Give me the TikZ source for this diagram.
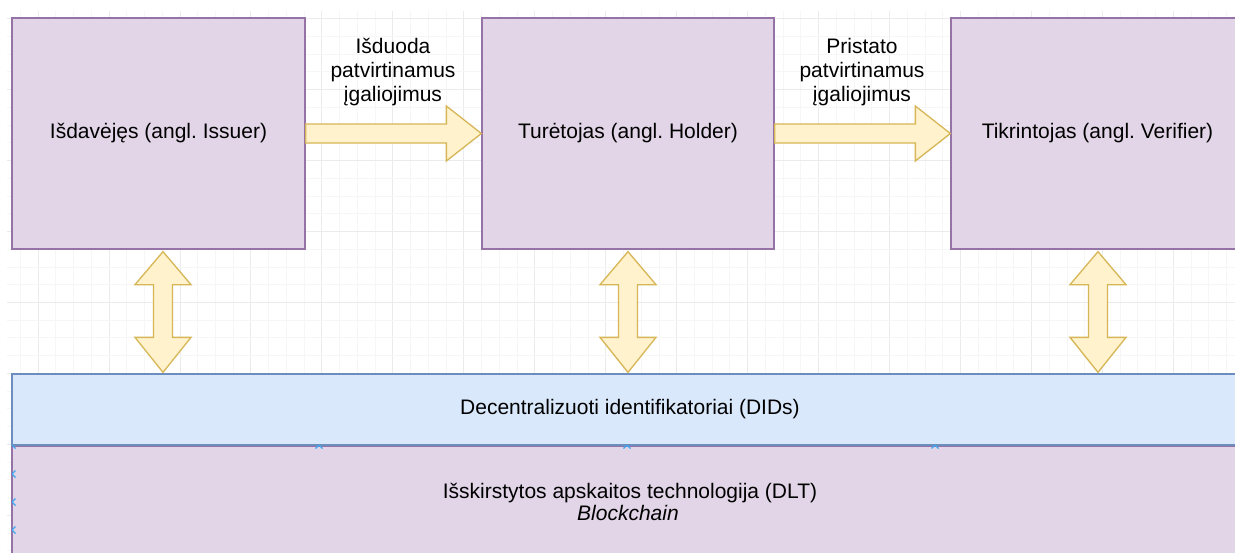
\documentclass[tikz,border=0pt]{standalone}
\usepackage{fontspec}
\setmainfont{Liberation Sans}
\usetikzlibrary{calc}
\frenchspacing
\definecolor{pfill}{HTML}{E1D5E7}
\definecolor{pdraw}{HTML}{9673A6}
\definecolor{bfill}{HTML}{DAE8FC}
\definecolor{bdraw}{HTML}{6C8EBF}
\definecolor{yfill}{HTML}{FFF2CC}
\definecolor{ydraw}{HTML}{D6B656}
\definecolor{gridminor}{HTML}{F6F6F6}
\definecolor{gridmajor}{HTML}{EBEBEB}
\definecolor{markblue}{HTML}{3AA8F0}
\begin{document}
\begin{tikzpicture}[x=1pt,y=-1pt,
  txt/.style={font=\fontsize{21}{24}\selectfont, text=black, align=center, inner sep=0pt},
  pbox/.style={txt, draw=pdraw, fill=pfill, line width=1.3pt},
  bbox/.style={txt, draw=bdraw, fill=bfill, line width=1.3pt},
  yarrow/.style={draw=ydraw, fill=yfill, line width=1.3pt, line join=miter},
  gminor/.style={draw=gridminor, line width=0.8pt},
  gmajor/.style={draw=gridmajor, line width=0.8pt},
  cmark/.style={draw=markblue, line width=1.3pt}]
\useasboundingbox (0,0) rectangle (1235,552);
\fill[white] (0,0) rectangle (1235,552);
% background grid
\foreach \i in {1,...,69} {
  \pgfmathsetmacro\gx{2.52+17.74*\i}
  \pgfmathtruncatemacro\m{mod(\i,4)}
  \ifnum\m=2 \draw[gmajor] (\gx,11) -- (\gx,552); \else \draw[gminor] (\gx,11) -- (\gx,552); \fi
}
\foreach \j in {1,...,31} {
  \pgfmathsetmacro\gy{0.8+17.74*\j}
  \pgfmathtruncatemacro\m{mod(\j,4)}
  \ifnum\m=1 \draw[gmajor] (7,\gy) -- (1235,\gy); \else \draw[gminor] (7,\gy) -- (1235,\gy); \fi
}
% top boxes
\node[pbox, minimum width=293pt, minimum height=231pt] (issuer) at (158.5,133.5) {Išdavėjęs (angl. Issuer)};
\node[pbox, minimum width=292pt, minimum height=231pt] (holder) at (628,133.5) {Turėtojas (angl. Holder)};
\node[pbox, minimum width=293pt, minimum height=231pt] (verifier) at (1097.5,133.5) {Tikrintojas (angl. Verifier)};
% bottom boxes
\node[pbox, font=\fontsize{21}{22}\selectfont, minimum width=1232pt, minimum height=112pt] (dlt) at (628,502) {\hspace*{4pt}Išskirstytos apskaitos technologija (DLT)\\ \textit{Blockchain}};
\node[bbox, minimum width=1232pt, minimum height=71pt] (dids) at (628,409.5) {\hspace*{4pt}Decentralizuoti identifikatoriai (DIDs)};
% connection marks on the DLT box
\begin{scope}
\clip (12,445) rectangle (1244,557);
\foreach \px/\py in {12/445,319/445,627/445,935/445,12/474,12/502,12/530} {
  \draw[cmark] (\px-3.5,\py-3.5) -- (\px+3.5,\py+3.5) (\px-3.5,\py+3.5) -- (\px+3.5,\py-3.5);
}
\end{scope}
% horizontal block arrows
\draw[yarrow] ([yshift=9.5pt]issuer.east) -- ([xshift=-35pt,yshift=9.5pt]holder.west) -- ([xshift=-35pt,yshift=27.5pt]holder.west) -- (holder.west) -- ([xshift=-35pt,yshift=-27.5pt]holder.west) -- ([xshift=-35pt,yshift=-9.5pt]holder.west) -- ([yshift=-9.5pt]issuer.east) -- cycle;
\draw[yarrow] ([yshift=9.5pt]holder.east) -- ([xshift=-35pt,yshift=9.5pt]verifier.west) -- ([xshift=-35pt,yshift=27.5pt]verifier.west) -- (verifier.west) -- ([xshift=-35pt,yshift=-27.5pt]verifier.west) -- ([xshift=-35pt,yshift=-9.5pt]verifier.west) -- ([yshift=-9.5pt]holder.east) -- cycle;
% arrow labels
\node[txt] (lab1) at (393,72) {Išduoda\\patvirtinamus\\įgaliojimus};
\node[txt] (lab2) at (862,72) {Pristato\\patvirtinamus\\įgaliojimus};
% vertical double arrows
\foreach \b/\dx in {issuer/4.5, holder/0, verifier/0.5} {
  \coordinate (t) at ([xshift=\dx pt, yshift=-2pt]\b.south);
  \coordinate (u) at ([yshift=1pt]t |- dids.north);
  \draw[yarrow] (t) -- ($(t)+(28,33)$) -- ($(t)+(9.5,33)$) -- ($(u)+(9.5,-35)$) -- ($(u)+(28,-35)$) -- (u) -- ($(u)+(-28,-35)$) -- ($(u)+(-9.5,-35)$) -- ($(t)+(-9.5,33)$) -- ($(t)+(-28,33)$) -- cycle;
}
\end{tikzpicture}
\end{document}
